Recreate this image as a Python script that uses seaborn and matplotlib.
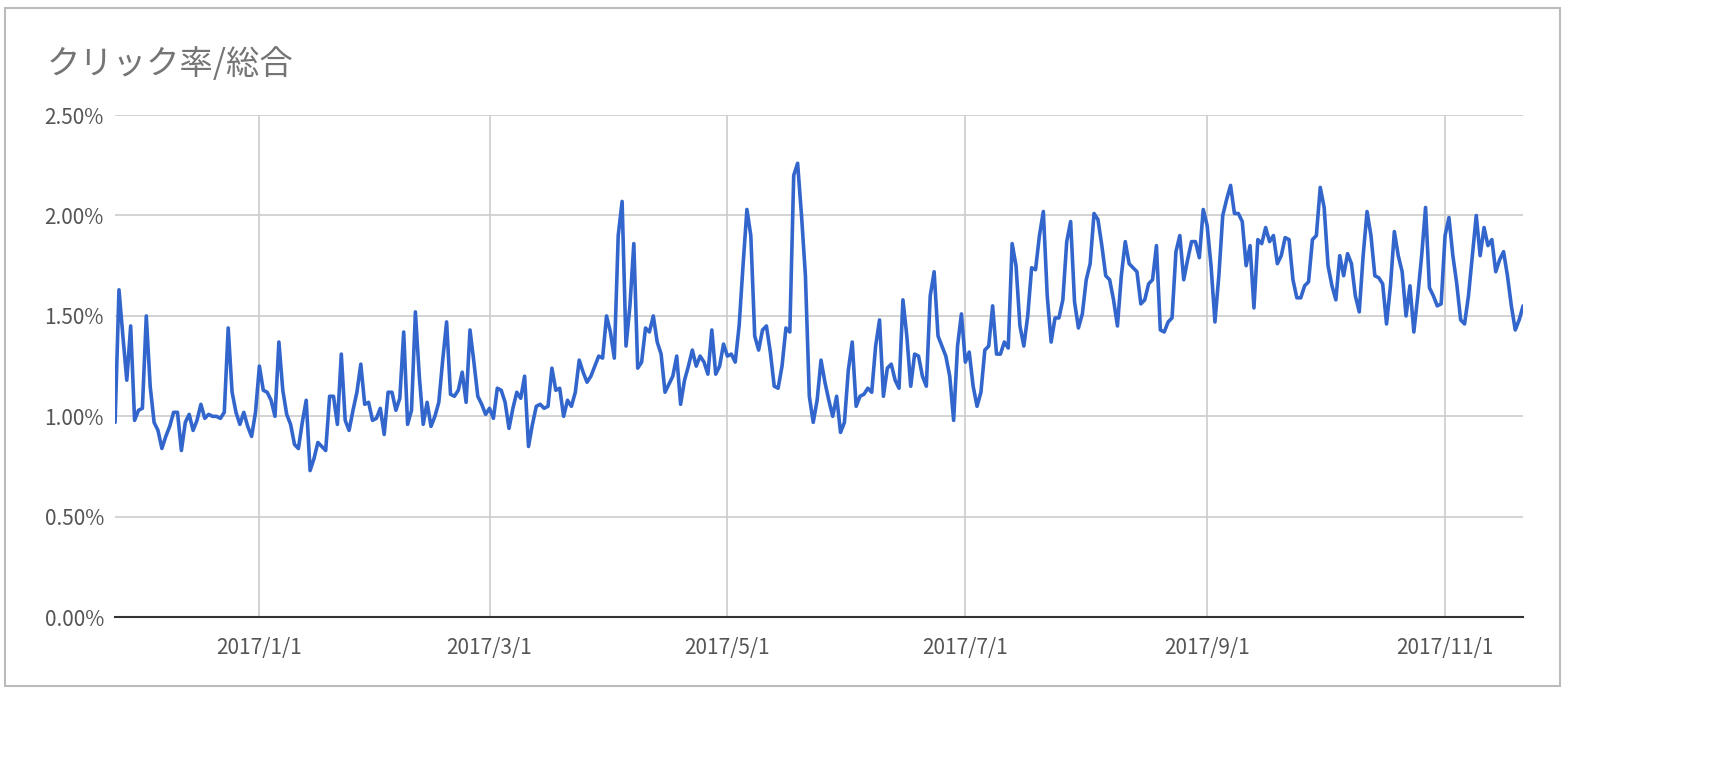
import matplotlib
matplotlib.use("Agg")
import matplotlib.pyplot as plt
import matplotlib.dates as mdates
from matplotlib.ticker import FuncFormatter
import seaborn as sns
import pandas as pd

nov16 = [0.97, 1.63, 1.40, 1.18, 1.45, 0.98]
dec16 = [1.03, 1.04, 1.50, 1.15, 0.97, 0.93, 0.84, 0.90, 0.95, 1.02, 1.02, 0.83, 0.97, 1.01, 0.93, 0.98, 1.06, 0.99, 1.01, 1.00, 1.00, 0.99, 1.02, 1.44, 1.12, 1.02, 0.96, 1.02, 0.95, 0.90, 1.02]
jan17 = [1.25, 1.13, 1.12, 1.08, 1.00, 1.37, 1.13, 1.01, 0.96, 0.86, 0.84, 0.97, 1.08, 0.73, 0.79, 0.87, 0.85, 0.83, 1.10, 1.10, 0.96, 1.31, 0.98, 0.93, 1.03, 1.12, 1.26, 1.06, 1.07, 0.98, 0.99]
feb17 = [1.04, 0.91, 1.12, 1.12, 1.03, 1.09, 1.42, 0.96, 1.03, 1.52, 1.20, 0.96, 1.07, 0.95, 1.00, 1.07, 1.28, 1.47, 1.11, 1.10, 1.13, 1.22, 1.07, 1.43, 1.27, 1.10, 1.06, 1.01]
mar17 = [1.04, 0.99, 1.14, 1.13, 1.07, 0.94, 1.04, 1.12, 1.09, 1.20, 0.85, 0.96, 1.05, 1.06, 1.04, 1.05, 1.24, 1.13, 1.14, 1.00, 1.08, 1.05, 1.12, 1.28, 1.22, 1.17, 1.20, 1.25, 1.30, 1.29, 1.50]
apr17 = [1.42, 1.29, 1.90, 2.07, 1.35, 1.55, 1.86, 1.24, 1.27, 1.44, 1.42, 1.50, 1.37, 1.31, 1.12, 1.16, 1.20, 1.30, 1.06, 1.18, 1.25, 1.33, 1.25, 1.30, 1.27, 1.21, 1.43, 1.21, 1.25, 1.36]
may17 = [1.30, 1.31, 1.27, 1.45, 1.75, 2.03, 1.90, 1.40, 1.33, 1.43, 1.45, 1.32, 1.15, 1.14, 1.25, 1.44, 1.42, 2.20, 2.26, 2.00, 1.70, 1.10, 0.97, 1.08, 1.28, 1.17, 1.08, 1.00, 1.10, 0.92, 0.97]
jun17 = [1.23, 1.37, 1.05, 1.10, 1.11, 1.14, 1.12, 1.35, 1.48, 1.10, 1.24, 1.26, 1.18, 1.14, 1.58, 1.40, 1.15, 1.31, 1.30, 1.20, 1.15, 1.60, 1.72, 1.40, 1.35, 1.30, 1.20, 0.98, 1.35, 1.51]
jul17 = [1.27, 1.32, 1.15, 1.05, 1.12, 1.33, 1.35, 1.55, 1.31, 1.31, 1.37, 1.34, 1.86, 1.75, 1.45, 1.35, 1.50, 1.74, 1.73, 1.90, 2.02, 1.60, 1.37, 1.49, 1.49, 1.58, 1.87, 1.97, 1.57, 1.44, 1.51]
aug17 = [1.68, 1.76, 2.01, 1.98, 1.85, 1.70, 1.68, 1.58, 1.45, 1.70, 1.87, 1.76, 1.74, 1.72, 1.56, 1.58, 1.66, 1.68, 1.85, 1.43, 1.42, 1.47, 1.49, 1.82, 1.90, 1.68, 1.78, 1.87, 1.87, 1.79, 2.03]
sep17 = [1.95, 1.75, 1.47, 1.70, 2.00, 2.08, 2.15, 2.01, 2.01, 1.97, 1.75, 1.85, 1.54, 1.88, 1.86, 1.94, 1.87, 1.90, 1.76, 1.80, 1.89, 1.88, 1.68, 1.59, 1.59, 1.65, 1.67, 1.88, 1.90, 2.14]
oct17 = [2.04, 1.75, 1.65, 1.58, 1.80, 1.70, 1.81, 1.76, 1.60, 1.52, 1.80, 2.02, 1.90, 1.70, 1.69, 1.66, 1.46, 1.65, 1.92, 1.80, 1.72, 1.50, 1.65, 1.42, 1.60, 1.80, 2.04, 1.64, 1.60, 1.55, 1.56]
nov17 = [1.90, 1.99, 1.80, 1.66, 1.48, 1.46, 1.60, 1.80, 2.00, 1.80, 1.94, 1.85, 1.88, 1.72, 1.78, 1.82, 1.70, 1.55, 1.43, 1.48, 1.55]

values = nov16 + dec16 + jan17 + feb17 + mar17 + apr17 + may17 + jun17 + jul17 + aug17 + sep17 + oct17 + nov17
dates = pd.date_range("2016-11-25", periods=len(values), freq="D")
df = pd.DataFrame({"date": dates, "ctr": values})

sns.set_theme(style="white")
plt.rcParams['font.family'] = ['Noto Sans CJK JP', 'DejaVu Sans']

fig = plt.figure(figsize=(17.28, 7.62), dpi=100)
ax = fig.add_axes([0.0666, 0.19, 0.8148, 0.659])
sns.lineplot(data=df, x="date", y="ctr", ax=ax, color="#3366cc", linewidth=2.6)

ax.set_xlim(dates[0], dates[-1])
ax.set_ylim(0, 2.5)
ax.set_yticks([0, 0.5, 1.0, 1.5, 2.0, 2.5])
ax.yaxis.set_major_formatter(FuncFormatter(lambda v, p: f"{v:.2f}%"))
ax.xaxis.set_major_locator(mdates.MonthLocator(bymonth=[1, 3, 5, 7, 9, 11], bymonthday=1))
ax.xaxis.set_major_formatter(FuncFormatter(lambda v, p: (lambda d: f"{d.year}/{d.month}/{d.day}")(mdates.num2date(v))))
ax.grid(True, which="major", color="#cccccc", linewidth=1.2)
ax.set_xlabel("")
ax.set_ylabel("")
for s in ["top", "right", "left"]:
    ax.spines[s].set_visible(False)
ax.spines["bottom"].set_color("#333333")
ax.spines["bottom"].set_linewidth(1.5)
ax.tick_params(axis="both", labelsize=15, colors="#555555", length=0, pad=8)
ax.tick_params(axis="x", pad=14)

fig.text(0.027, 0.915, "クリック率/総合", fontsize=24, color="#757575", va="center")
fig.patches.append(plt.Rectangle((0.003, 0.1), 0.9, 0.89, transform=fig.transFigure,
                                 fill=False, edgecolor="#bbbbbb", linewidth=1.5))
fig.savefig("out.png", dpi=100, facecolor="white")
